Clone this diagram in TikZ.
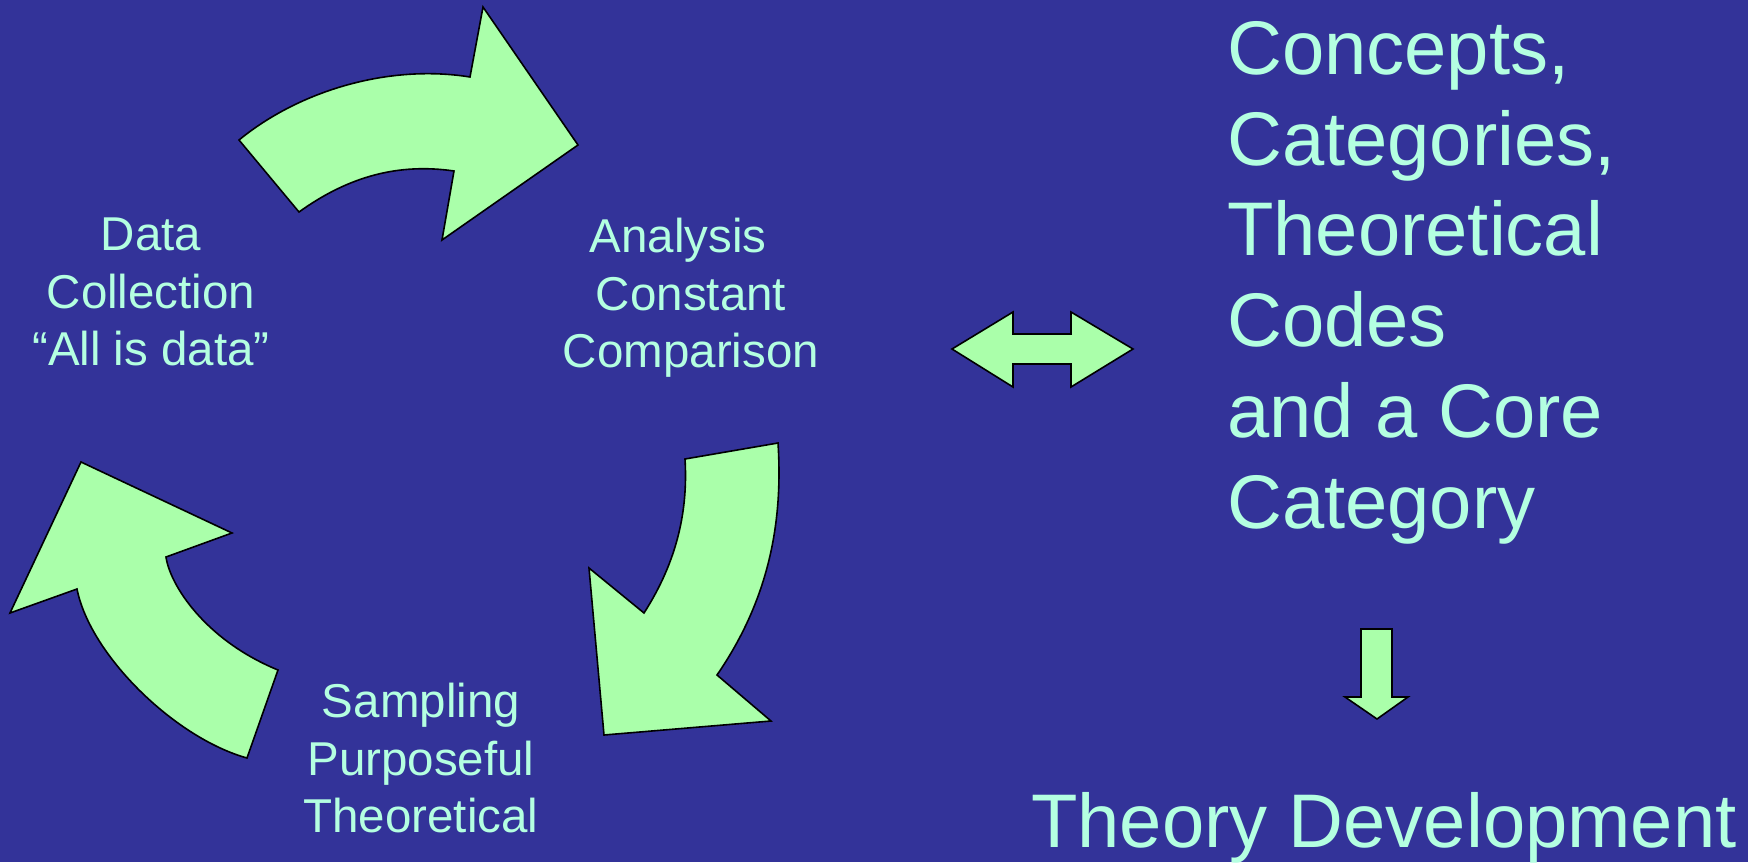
\documentclass[tikz,border=0pt]{standalone}
\usepackage{fontspec}
\setmainfont{Liberation Sans}
\usepackage{xcolor}
\usepackage{tikz}
\definecolor{slidebg}{RGB}{51,51,153}
\definecolor{arrowgreen}{RGB}{170,255,170}
\definecolor{mint}{RGB}{180,255,225}

\begin{document}
\begin{tikzpicture}[x=1pt,y=-1pt,
	blockarrow/.style={fill=arrowgreen,draw=black,line width=1.6pt,line join=miter},
	steptext/.style={text=mint,inner sep=0pt,align=center,font=\fontsize{47.5}{57.5}\selectfont},
	bigtext/.style={text=mint,inner sep=0pt,align=left,font=\fontsize{76}{90.8}\selectfont}]
			\fill[slidebg] (0,0) rectangle (1748,862);
			\draw[blockarrow] (239,140) .. controls (300,90) and (390,64) .. (470,77) -- (483,7) -- (578,145) -- (442,240) -- (454,171) .. controls (399,163) and (349,176) .. (299,212) -- cycle;
			\draw[blockarrow] (778,443) -- (685,459) .. controls (688,509) and (678,560) .. (644,613) -- (589,568) -- (604,735) -- (771,721) -- (717,675) .. controls (770,598) and (783,520) .. (778,443) -- cycle;
			\draw[blockarrow] (247,758) .. controls (175,738) and (90,655) .. (77,589) -- (10,613) -- (81,462) -- (232,533) -- (166,557) .. controls (170,585) and (205,640) .. (278,670) -- cycle;
			\draw[blockarrow] (952,349) -- (1013,312) -- (1013,334) -- (1071,334) -- (1071,312) -- (1133,349) -- (1071,387) -- (1071,364) -- (1013,364) -- (1013,387) -- cycle;
			\draw[blockarrow] (1361,629) -- (1392,629) -- (1392,697) -- (1408,697) -- (1377,719) -- (1345,697) -- (1361,697) -- cycle;
			\node[steptext,anchor=north] (collect) at (151,218) {Data\\Collection\\“All is data”};
			\node[steptext,anchor=north] (analyse) at (691,218) {Analysis\hspace*{26pt}\\Constant\hspace*{10pt}\\Comparison};
			\node[steptext,anchor=north] (sample) at (421,683) {Sampling\\Purposeful\\Theoretical};
			\node[bigtext,anchor=north west] (concepts) at (1227,21) {Concepts,\\Categories,\\Theoretical\\Codes\\and a Core\\Category};
			\node[bigtext,anchor=base west] (theory) at (1031,847) {Theory Development};
		\end{tikzpicture}
\end{document}
